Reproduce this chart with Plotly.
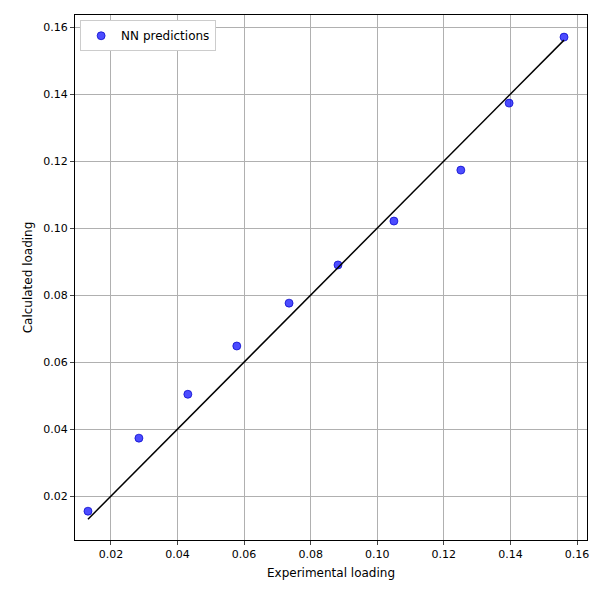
import plotly.graph_objects as go

experimental = [0.0131, 0.0284, 0.0431, 0.0578, 0.0735, 0.0882, 0.1050, 0.1251, 0.1396, 0.1561]
calculated = [0.0155, 0.0373, 0.0504, 0.0648, 0.0776, 0.0890, 0.1021, 0.1173, 0.1373, 0.1570]
line_x = [min(experimental), max(experimental)]

fig = go.Figure()
fig.add_trace(go.Scatter(x=experimental, y=calculated, mode="markers", name="NN predictions",
                         marker=dict(color="rgba(0,0,255,0.7)", size=8, line=dict(color="rgba(0,0,200,0.7)", width=1))))
fig.add_trace(go.Scatter(x=line_x, y=line_x, mode="lines", showlegend=False,
                         line=dict(color="black", width=1.5)))

ax = dict(showline=True, linecolor="black", mirror=True, ticks="outside", ticklen=4,
          showgrid=True, gridcolor="#b0b0b0", gridwidth=1, zeroline=False, tickformat=".2f",
          automargin=False,
          tickfont=dict(size=11, color="black"), title_font=dict(size=12, color="black"))
fig.update_layout(
    width=600, height=600, plot_bgcolor="white", paper_bgcolor="white",
    font=dict(family="DejaVu Sans", color="black"),
    margin=dict(l=67, r=21, t=7, b=68),
    xaxis=dict(ax, range=[0.0092, 0.163], dtick=0.02, title_text="Experimental loading", title_standoff=8),
    yaxis=dict(ax, range=[0.0069, 0.1636], dtick=0.02, title_text="Calculated loading", title_standoff=8),
    legend=dict(x=0.01, y=0.99, xanchor="left", yanchor="top", bordercolor="#cccccc", borderwidth=1,
                bgcolor="white", font=dict(size=12)),
)
fig.write_html("out.html")
